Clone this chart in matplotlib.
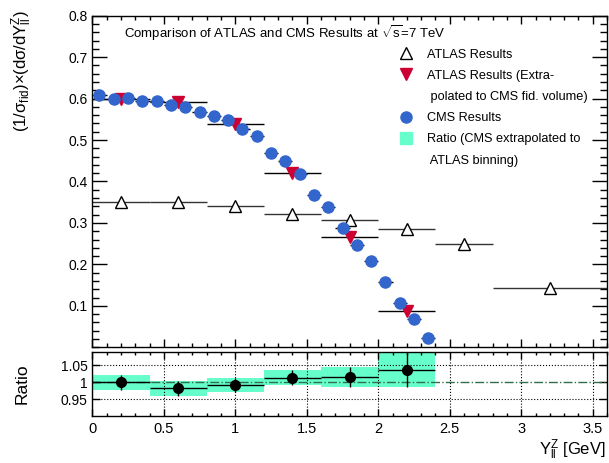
import numpy as np
import matplotlib
matplotlib.use("Agg")
import matplotlib.pyplot as plt
from matplotlib.lines import Line2D
from matplotlib.ticker import MultipleLocator

plt.rcParams['font.family'] = ['Liberation Sans', 'DejaVu Sans']
plt.rcParams['mathtext.fontset'] = 'custom'
plt.rcParams['mathtext.rm'] = 'Liberation Sans'
plt.rcParams['mathtext.it'] = 'Liberation Sans:italic'

# CMS results, bins of 0.1
cms_x = np.arange(0.05, 2.4, 0.1)
cms_y = [0.609, 0.598, 0.602, 0.594, 0.594, 0.585, 0.579, 0.568, 0.558, 0.548,
         0.527, 0.509, 0.468, 0.449, 0.418, 0.368, 0.339, 0.288, 0.248, 0.208,
         0.158, 0.108, 0.068, 0.023]
cms_xerr = 0.05

# ATLAS results (open triangles)
atlas_x = [0.2, 0.6, 1.0, 1.4, 1.8, 2.2, 2.6, 3.2]
atlas_xerr = [0.2, 0.2, 0.2, 0.2, 0.2, 0.2, 0.2, 0.4]
atlas_y = [0.350, 0.351, 0.342, 0.322, 0.308, 0.286, 0.250, 0.144]

# ATLAS extrapolated to CMS fiducial volume
atlas_ext_x = [0.2, 0.6, 1.0, 1.4, 1.8, 2.2]
atlas_ext_y = [0.600, 0.591, 0.539, 0.420, 0.267, 0.087]

# ratio panel
ratio_x = [0.2, 0.6, 1.0, 1.4, 1.8, 2.2]
ratio_y = [1.000, 0.982, 0.992, 1.013, 1.015, 1.036]
ratio_err = [0.022, 0.023, 0.021, 0.022, 0.029, 0.049]

BLUE = '#3366cc'
RED = '#cc0033'
GREEN = '#66ffcc'

fig = plt.figure(figsize=(6.09, 4.63), dpi=100)
ax = fig.add_axes([0.1516, 0.2499, 0.8451, 0.7162])
axr = fig.add_axes([0.1516, 0.1015, 0.8451, 0.1389], sharex=ax)

# --- main panel ---
ax.errorbar(atlas_x, atlas_y, xerr=atlas_xerr, fmt='none', ecolor='#333333', elinewidth=1, zorder=2)
ax.errorbar(atlas_ext_x, atlas_ext_y, xerr=0.2, fmt='none', ecolor='black', elinewidth=1, zorder=2)
ax.plot(atlas_x, atlas_y, ls='none', marker='^', ms=9, mfc='white', mec='black', mew=1, zorder=4)
ax.plot(atlas_ext_x, atlas_ext_y, ls='none', marker='v', ms=8, mfc=RED, mec=RED, zorder=4)
ax.errorbar(cms_x, cms_y, xerr=cms_xerr, fmt='none', ecolor='black', elinewidth=1, zorder=3)
ax.plot(cms_x, cms_y, ls='none', marker='o', ms=8, mfc=BLUE, mec=BLUE, zorder=5)

ax.set_xlim(0, 3.6)
ax.set_ylim(0, 0.8)
ax.set_yticks(np.arange(0.1, 0.81, 0.1))
ax.set_yticklabels([f'{v:.1f}' for v in np.arange(0.1, 0.81, 0.1)])
ax.yaxis.set_minor_locator(MultipleLocator(0.02))
ax.xaxis.set_major_locator(MultipleLocator(0.5))
ax.xaxis.set_minor_locator(MultipleLocator(0.1))
ax.tick_params(axis='both', which='both', direction='in', top=True, right=True, labelsize=10)
ax.tick_params(axis='y', which='major', length=11, width=1)
ax.tick_params(axis='y', which='minor', length=5, width=1)
ax.tick_params(axis='x', which='major', length=6, width=1)
ax.tick_params(axis='x', which='minor', length=3, width=1)
ax.tick_params(axis='x', labelbottom=False)

ax.text(0.062, 0.948, r'Comparison of ATLAS and CMS Results at $\sqrt{\mathrm{s}}$=7 TeV',
        transform=ax.transAxes, fontsize=9.5, va='center', ha='left')

blank = Line2D([], [], ls='none')
handles = [
    Line2D([], [], ls='none', marker='^', ms=9, mfc='white', mec='black', mew=1),
    Line2D([], [], ls='none', marker='v', ms=8, mfc=RED, mec=RED),
    blank,
    Line2D([], [], ls='none', marker='o', ms=8, mfc=BLUE, mec=BLUE),
    Line2D([], [], ls='none', marker='s', ms=9, mfc=GREEN, mec=GREEN),
    blank,
]
labels = ['ATLAS Results', 'ATLAS Results (Extra-', ' polated to CMS fid. volume)',
          'CMS Results', 'Ratio (CMS extrapolated to', ' ATLAS binning)']
ax.legend(handles, labels, loc='upper left', bbox_to_anchor=(0.595, 0.901), frameon=False,
          fontsize=9.2, borderpad=0, borderaxespad=0, handlelength=1.1, handletextpad=1.1,
          labelspacing=0.72)

fig.text(22 / 609, 1 - 10 / 463, '(1/σ$_{\\mathrm{fid}}$)×(dσ/dY$^{\\mathrm{Z}}_{\\mathrm{ll}}$)',
         rotation=90, ha='center', va='top', fontsize=12)

# --- ratio panel ---
ratio_lo = [v - e for v, e in zip(ratio_y, ratio_err)]
axr.bar(ratio_x, [2 * e for e in ratio_err], width=0.4, bottom=ratio_lo, color=GREEN,
        edgecolor='none', zorder=1)
axr.axhline(1.0, color='#2f6f4f', ls='-.', lw=1, zorder=2)
for g in [0.95, 1.05]:
    axr.axhline(g, color='black', ls=':', lw=0.8, zorder=1.5)
axr.grid(axis='x', color='black', ls=':', lw=0.8, zorder=1.5)
axr.errorbar(ratio_x, ratio_y, xerr=0.2, yerr=ratio_err, fmt='o', ms=7, color='black',
             ecolor='black', elinewidth=1, zorder=3)

axr.set_ylim(0.902, 1.089)
axr.set_yticks([0.95, 1.0, 1.05])
axr.set_yticklabels(['0.95', '1', '1.05'])
axr.set_xticks(np.arange(0, 3.51, 0.5))
axr.set_xticklabels(['0', '0.5', '1', '1.5', '2', '2.5', '3', '3.5'])
axr.xaxis.set_minor_locator(MultipleLocator(0.1))
axr.tick_params(axis='both', which='both', direction='in', top=True, right=True)
axr.tick_params(axis='y', which='major', length=5.5, width=1, labelsize=10)
axr.tick_params(axis='x', which='major', length=5, width=1, labelsize=10.5, pad=4)
axr.tick_params(axis='x', which='minor', length=2.5, width=1)
axr.set_xlim(0, 3.6)

fig.text(22 / 609, 1 - 384 / 463, 'Ratio', rotation=90, ha='center', va='center', fontsize=12.5)
fig.text(606 / 609, 1 - 450 / 463, 'Y$^{\\mathrm{Z}}_{\\mathrm{ll}}$ [GeV]', ha='right', va='center',
         fontsize=12)

for a in (ax, axr):
    for s in a.spines.values():
        s.set_linewidth(1)

fig.savefig('out.png', dpi=100)
